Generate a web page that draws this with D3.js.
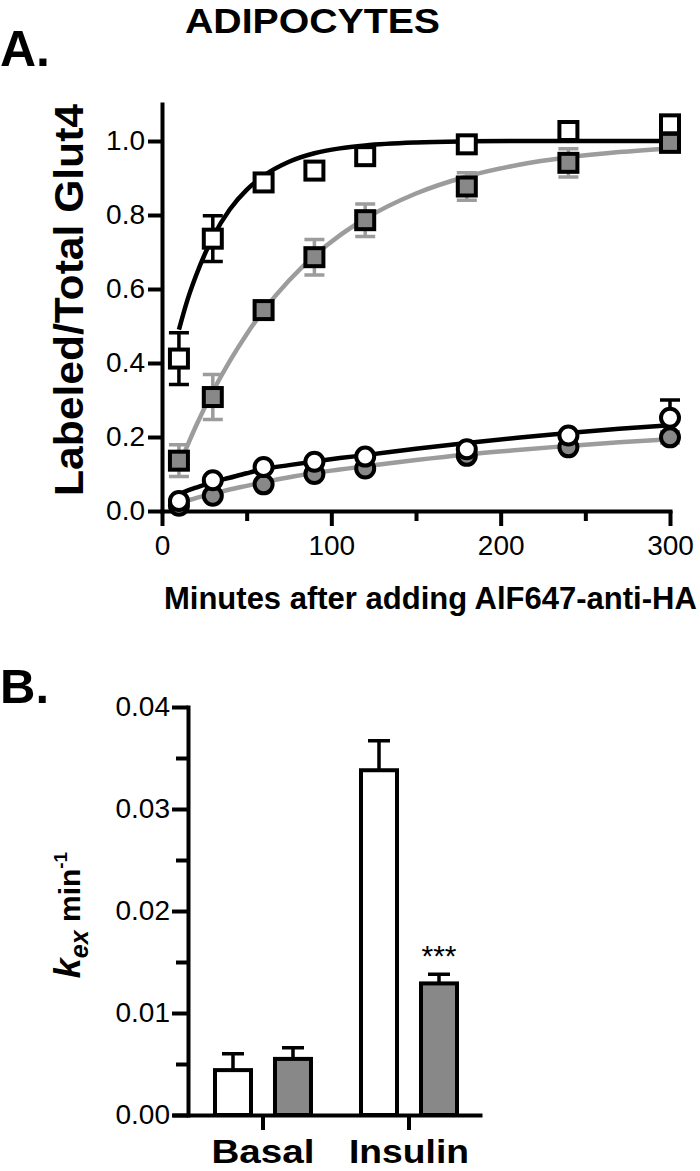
<!DOCTYPE html>
<html>
<head>
<meta charset="utf-8">
<script src="https://cdn.jsdelivr.net/npm/d3@7"></script>
<style>
  body { margin: 0; background: #fff; }
  svg { display: block; }
  text { font-family: "Liberation Sans", Arial, Helvetica, sans-serif; fill: #000; }
</style>
</head>
<body>
<script>
// ---- panel A data ----
const timesA = [10, 30, 60, 90, 120, 180, 240, 300];
const insOpen = [0.412, 0.736, 0.888, 0.92, 0.959, 0.991, 1.027, 1.045];
const insOpenErr = [0.07, 0.062, 0, 0, 0, 0, 0, 0];
const insGray = [0.136, 0.308, 0.543, 0.686, 0.786, 0.877, 0.941, 0.995];
const insGrayErr = [0.043, 0.061, 0.01, 0.048, 0.044, 0.037, 0.038, 0.01];
const basOpen = [0.027, 0.083, 0.119, 0.133, 0.147, 0.167, 0.204, 0.252];
const basOpenErr = [0, 0, 0, 0, 0, 0, 0, 0.048];
const basGray = [0.014, 0.041, 0.072, 0.1, 0.115, 0.149, 0.172, 0.199];
const basGrayErr = [0, 0, 0, 0, 0, 0, 0, 0.015];

// fitted curves, sampled from the drawn lines
const fitT = [10, 15, 20, 30, 40, 50, 60, 75, 90, 105, 120, 150, 180, 210, 240, 270, 300];
const fitInsOpen = [0.49, 0.57, 0.635, 0.74, 0.815, 0.868, 0.906, 0.944, 0.967, 0.98, 0.988, 0.996, 0.999, 1.0, 1.0, 1.0, 1.0];
const fitInsGray = [0.122, 0.177, 0.229, 0.323, 0.405, 0.478, 0.542, 0.623, 0.69, 0.745, 0.79, 0.858, 0.904, 0.935, 0.956, 0.97, 0.98];
const fitBasOpen = [0.045, 0.055, 0.063, 0.078, 0.09, 0.102, 0.113, 0.124, 0.134, 0.143, 0.151, 0.168, 0.184, 0.198, 0.211, 0.222, 0.232];
const fitBasGray = [0.021, 0.028, 0.035, 0.046, 0.058, 0.068, 0.078, 0.091, 0.103, 0.112, 0.121, 0.138, 0.153, 0.165, 0.176, 0.186, 0.194];

const yTicksA = [0, 0.2, 0.4, 0.6, 0.8, 1.0];
const xTicksA = [0, 100, 200, 300];
const xMinorA = [50, 150, 250];

// ---- panel B data ----
const groups = ['Basal', 'Insulin'];
const kOpen = [0.0044, 0.0338];
const kOpenErr = [0.0016, 0.0029];
const kGray = [0.0055, 0.0129];
const kGrayErr = [0.0011, 0.0009];
const yTicksB = [0, 0.01, 0.02, 0.03, 0.04];
const yMinorB = [0.005, 0.015, 0.025, 0.035];

const GRAY_FILL = '#888888';
const GRAY_LINE = '#9c9c9c';

const svg = d3.select('body').append('svg')
  .attr('width', 700)
  .attr('height', 1171);

function styleAxis(g, size) {
  g.selectAll('path, line').attr('stroke', '#000').attr('stroke-width', 4);
  g.select('.domain').attr('stroke-linecap', 'square');
  g.selectAll('text').attr('font-size', size).attr('fill', '#000')
    .attr('font-family', '"Liberation Sans", Arial, sans-serif');
}

// ---------------- headings ----------------
svg.append('text')
  .attr('x', 185).attr('y', 33)
  .attr('font-size', 35).attr('font-weight', 'bold')
  .attr('textLength', 255).attr('lengthAdjust', 'spacingAndGlyphs')
  .text('ADIPOCYTES');

svg.append('text')
  .attr('x', 0).attr('y', 66)
  .attr('font-size', 50).attr('font-weight', 'bold')
  .text('A.');

svg.append('text')
  .attr('x', 0).attr('y', 703)
  .attr('font-size', 49).attr('font-weight', 'bold')
  .text('B.');

// ---------------- panel A ----------------
const xA = d3.scaleLinear().domain([0, 300]).range([162, 670]);
const yA = d3.scaleLinear().domain([0, 1.1]).range([511, 104]);

const gyA = svg.append('g').attr('transform', 'translate(162,0)')
  .call(d3.axisLeft(yA).tickValues(yTicksA).tickFormat(d3.format('.1f'))
    .tickSize(14).tickSizeOuter(0).tickPadding(3));
styleAxis(gyA, 28);

const gxA = svg.append('g').attr('transform', 'translate(0,511)')
  .call(d3.axisBottom(xA).tickValues(xTicksA).tickFormat(d3.format('d'))
    .tickSize(15).tickSizeOuter(0).tickPadding(9));
styleAxis(gxA, 28);

const gxAm = svg.append('g').attr('transform', 'translate(0,511)')
  .call(d3.axisBottom(xA).tickValues(xMinorA).tickFormat('').tickSize(10).tickSizeOuter(0));
gxAm.select('.domain').remove();
styleAxis(gxAm, 28);

svg.append('text')
  .attr('transform', 'translate(83,300) rotate(-90)')
  .attr('text-anchor', 'middle')
  .attr('font-size', 40).attr('font-weight', 'bold')
  .attr('textLength', 392).attr('lengthAdjust', 'spacingAndGlyphs')
  .text('Labeled/Total Glut4');

svg.append('text')
  .attr('x', 164).attr('y', 609)
  .attr('font-size', 31).attr('font-weight', 'bold')
  .text('Minutes after adding AlF647-anti-HA');

const plotA = svg.append('g');
const fitLine = d3.line()
  .x(d => xA(d[0]))
  .y(d => yA(d[1]))
  .curve(d3.curveMonotoneX);

const fits = [
  {vals: fitBasGray, color: GRAY_LINE},
  {vals: fitBasOpen, color: '#000'},
  {vals: fitInsGray, color: GRAY_LINE},
  {vals: fitInsOpen, color: '#000'}
];
plotA.selectAll('path.fit')
  .data(fits)
  .enter()
  .append('path')
  .attr('class', 'fit')
  .attr('d', f => fitLine(fitT.map((t, i) => [t, f.vals[i]])))
  .attr('fill', 'none')
  .attr('stroke', f => f.color)
  .attr('stroke-width', 4.5);

function errBars(means, errs, color) {
  const pts = timesA.map((t, i) => ({t: t, m: means[i], e: errs[i]})).filter(d => d.e > 0);
  const g = plotA.append('g').attr('stroke', color).attr('stroke-width', 3.5).attr('fill', 'none');
  g.selectAll('path')
    .data(pts)
    .enter()
    .append('path')
    .attr('d', d => {
      const x = xA(d.t), y1 = yA(d.m + d.e), y2 = yA(d.m - d.e);
      return `M${x},${y1}V${y2}M${x - 10},${y1}H${x + 10}M${x - 10},${y2}H${x + 10}`;
    });
}
errBars(basOpen, basOpenErr, '#000');
errBars(basGray, basGrayErr, GRAY_LINE);
errBars(insOpen, insOpenErr, '#000');
errBars(insGray, insGrayErr, GRAY_LINE);

function circles(means, fill) {
  plotA.append('g').selectAll('circle')
    .data(timesA.map((t, i) => [t, means[i]]))
    .enter()
    .append('circle')
    .attr('cx', d => xA(d[0]))
    .attr('cy', d => yA(d[1]))
    .attr('r', 9)
    .attr('fill', fill)
    .attr('stroke', '#000')
    .attr('stroke-width', 4);
}
function squares(means, fill) {
  const s = 18;
  plotA.append('g').selectAll('rect')
    .data(timesA.map((t, i) => [t, means[i]]))
    .enter()
    .append('rect')
    .attr('x', d => xA(d[0]) - s / 2)
    .attr('y', d => yA(d[1]) - s / 2)
    .attr('width', s)
    .attr('height', s)
    .attr('fill', fill)
    .attr('stroke', '#000')
    .attr('stroke-width', 4);
}
circles(basGray, GRAY_FILL);
circles(basOpen, '#fff');
squares(insOpen, '#fff');
squares(insGray, GRAY_FILL);

// ---------------- panel B ----------------
const xB = d3.scaleBand().domain(groups).range([172, 482])
  .paddingInner(0).paddingOuter(0.0616).align(1);
const xSub = d3.scaleBand().domain(['open', 'gray']).range([-48, 48]).paddingInner(0.4);
const yB = d3.scaleLinear().domain([0, 0.04]).range([1115, 707]);

const gyB = svg.append('g').attr('transform', 'translate(188,0)')
  .call(d3.axisLeft(yB).tickValues(yTicksB).tickFormat(d3.format('.2f'))
    .tickSize(16).tickSizeOuter(0).tickPadding(2));
styleAxis(gyB, 28);

const gyBm = svg.append('g').attr('transform', 'translate(188,0)')
  .call(d3.axisLeft(yB).tickValues(yMinorB).tickFormat('').tickSize(12).tickSizeOuter(0));
gyBm.select('.domain').remove();
styleAxis(gyBm, 28);

const gxB = svg.append('g').attr('transform', 'translate(0,1115)')
  .call(d3.axisBottom(xB).tickSize(15).tickSizeOuter(0).tickPadding(4));
gxB.selectAll('text').remove();
styleAxis(gxB, 28);
gxB.select('.domain').attr('stroke-linecap', 'butt');

// category labels
svg.append('g').selectAll('text')
  .data(groups)
  .enter()
  .append('text')
  .attr('x', d => xB(d) + xB.bandwidth() / 2)
  .attr('y', 1163)
  .attr('text-anchor', 'middle')
  .attr('font-size', 33).attr('font-weight', 'bold')
  .attr('textLength', (d, i) => i === 0 ? 103 : 120)
  .attr('lengthAdjust', 'spacingAndGlyphs')
  .text(d => d);

const barData = [];
groups.forEach((g, i) => {
  barData.push({g: g, key: 'open', v: kOpen[i], e: kOpenErr[i], fill: '#fff'});
  barData.push({g: g, key: 'gray', v: kGray[i], e: kGrayErr[i], fill: GRAY_FILL});
});
const barX = d => xB(d.g) + xB.bandwidth() / 2 + xSub(d.key);

const plotB = svg.append('g');
plotB.selectAll('path.err')
  .data(barData)
  .enter()
  .append('path')
  .attr('class', 'err')
  .attr('d', d => {
    const cx = barX(d) + xSub.bandwidth() / 2;
    const y0 = yB(d.v), y1 = yB(d.v + d.e);
    return `M${cx},${y0}V${y1}M${cx - 11},${y1}H${cx + 11}`;
  })
  .attr('stroke', '#000')
  .attr('stroke-width', 3.5)
  .attr('fill', 'none');

plotB.selectAll('rect.bar')
  .data(barData)
  .enter()
  .append('rect')
  .attr('class', 'bar')
  .attr('x', barX)
  .attr('y', d => yB(d.v))
  .attr('width', xSub.bandwidth())
  .attr('height', d => yB(0) - yB(d.v))
  .attr('fill', d => d.fill)
  .attr('stroke', '#000')
  .attr('stroke-width', 4);

// significance marker over the insulin gray bar
svg.append('text')
  .attr('x', xB('Insulin') + xB.bandwidth() / 2 + xSub('gray') + xSub.bandwidth() / 2)
  .attr('y', 966)
  .attr('text-anchor', 'middle')
  .attr('font-size', 30)
  .text('***');

// y title B: k_ex min^-1
const yTitleB = svg.append('text')
  .attr('transform', 'translate(80,915) rotate(-90)')
  .attr('text-anchor', 'middle')
  .attr('font-weight', 'bold');
yTitleB.append('tspan').attr('font-size', 36).attr('font-style', 'italic').text('k');
yTitleB.append('tspan').attr('font-size', 25).attr('font-style', 'italic').attr('dy', 8).text('ex');
yTitleB.append('tspan').attr('font-size', 30).attr('dy', -8).text(' min');
yTitleB.append('tspan').attr('font-size', 19).attr('dy', -13).text('-1');
</script>
</body>
</html>
